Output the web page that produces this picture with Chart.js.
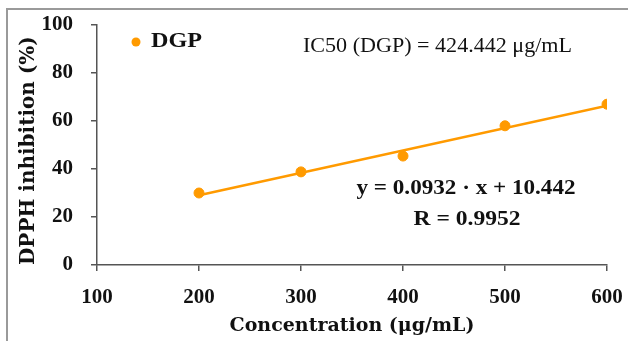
<!DOCTYPE html>
<html>
<head>
<meta charset="utf-8">
<script src="https://cdn.jsdelivr.net/npm/chart.js@4"></script>
<style>
  html, body { margin: 0; padding: 0; background: #fff; }
  #wrap { width: 628px; height: 341px; }
</style>
</head>
<body>
<div id="wrap"><canvas id="chart"></canvas></div>
<script>
// data
const concentrations = [200, 300, 400, 500, 600];
const inhibition = [30, 38.8, 45.4, 58, 67];
const fitX = [200, 600];
const fitY = [29.1, 66.4];
const xTicks = [100, 200, 300, 400, 500, 600];
const yTicks = [0, 20, 40, 60, 80, 100];
const seriesName = 'DGP';
const icText = 'IC50 (DGP) = 424.442 \u03bcg/mL';
const eqText = 'y = 0.0932 \u00b7 x + 10.442';
const rText = 'R = 0.9952';

const orange = '#FF9A00';
const serif = '"DejaVu Serif", "Liberation Serif", serif';
const times = '"Liberation Serif", "Times New Roman", serif';

// draw text at a font size, stretched sideways to span a given width
function fitText(ctx, text, font, width, x, y, align) {
    ctx.font = font;
    const s = width / ctx.measureText(text).width;
    ctx.save();
    ctx.translate(x, y);
    ctx.scale(s, 1);
    ctx.textAlign = align;
    ctx.fillText(text, 0, 0);
    ctx.restore();
}

// frame, legend and annotation text
const extras = {
    id: 'extras',
    afterDraw(chart) {
        const ctx = chart.ctx;
        ctx.save();
        ctx.strokeStyle = '#9a9a9a';
        ctx.lineWidth = 2;
        ctx.beginPath();
        ctx.moveTo(628, 9);
        ctx.lineTo(7, 9);
        ctx.lineTo(7, 341);
        ctx.stroke();

        // legend
        ctx.fillStyle = orange;
        ctx.beginPath();
        ctx.arc(136, 42, 4.5, 0, Math.PI * 2);
        ctx.fill();
        ctx.fillStyle = '#111';
        ctx.textBaseline = 'middle';
        fitText(ctx, chart.data.datasets[0].label, 'bold 22px ' + times, 51, 151, 41, 'left');
        fitText(ctx, icText, '21px ' + times, 269, 303, 46, 'left');
        fitText(ctx, eqText, 'bold 20px ' + times, 219, 466, 189, 'center');
        fitText(ctx, rText, 'bold 20px ' + times, 107, 467, 220, 'center');
        ctx.restore();
    }
};

const tickFont = { family: times, size: 21, weight: 'bold' };

new Chart(document.getElementById('chart'), {
    type: 'scatter',
    data: {
        datasets: [{
            label: seriesName,
            data: concentrations.map((x, i) => ({ x: x, y: inhibition[i] })),
            backgroundColor: orange,
            borderColor: orange,
            pointRadius: 5,
            pointHoverRadius: 5
        }, {
            label: 'fit',
            type: 'line',
            data: fitX.map((x, i) => ({ x: x, y: fitY[i] })),
            borderColor: orange,
            borderWidth: 2.5,
            pointRadius: 0,
            fill: false
        }]
    },
    options: {
        responsive: true,
        maintainAspectRatio: false,
        animation: false,
        layout: { padding: { top: 25, right: 21, left: 0, bottom: 0 } },
        plugins: { legend: { display: false }, tooltip: { enabled: false } },
        scales: {
            x: {
                type: 'linear',
                min: 100,
                max: 600,
                afterBuildTicks: axis => { axis.ticks = xTicks.map(v => ({ value: v })); },
                afterFit: axis => { axis.height = 76; axis.paddingLeft = 0; axis.paddingRight = 0; },
                ticks: { color: '#111', font: tickFont, padding: 14 },
                grid: { drawOnChartArea: false, drawTicks: true, tickLength: 6, color: '#555', lineWidth: 1.5 },
                border: { display: true, color: '#555', width: 1.5 },
                title: {
                    display: true,
                    text: 'Concentration (\u03bcg/mL)',
                    color: '#111',
                    font: { family: serif, size: 19, weight: 'bold' },
                    padding: { top: 0, bottom: 4 }
                }
            },
            y: {
                min: 0,
                max: 100,
                afterBuildTicks: axis => { axis.ticks = yTicks.map(v => ({ value: v })); },
                afterFit: axis => { axis.width = 97; axis.paddingTop = 0; axis.paddingBottom = 0; },
                ticks: { color: '#111', font: tickFont, padding: 18 },
                grid: { drawOnChartArea: false, drawTicks: true, tickLength: 6, color: '#555', lineWidth: 1.5 },
                border: { display: true, color: '#555', width: 1.5 },
                title: {
                    display: true,
                    text: 'DPPH inhibition (%)',
                    align: 'start',
                    color: '#111',
                    font: { family: serif, size: 20, weight: 'bold' },
                    padding: { top: 17, bottom: 0 }
                }
            }
        }
    },
    plugins: [extras]
});
</script>
</body>
</html>
